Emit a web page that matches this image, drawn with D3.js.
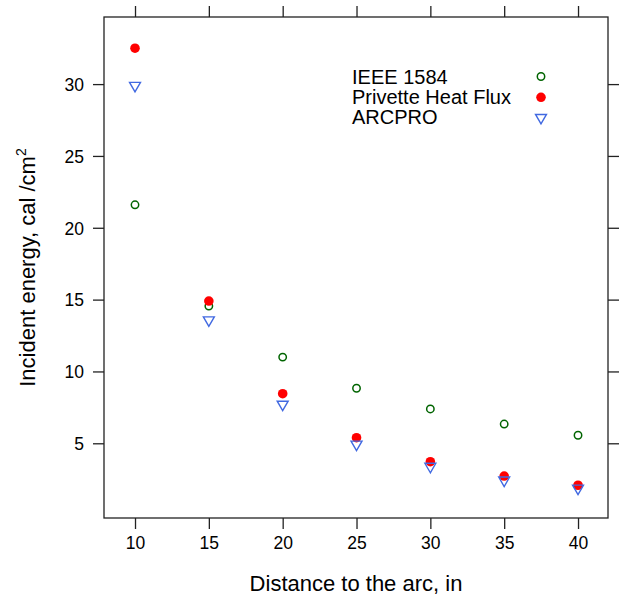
<!DOCTYPE html>
<html>
<head>
<meta charset="utf-8">
<script src="https://cdn.jsdelivr.net/npm/d3@7"></script>
<style>
  body { margin: 0; background: #fff; }
  svg { display: block; font-family: "Liberation Sans", Arial, sans-serif; }
</style>
</head>
<body>
<svg id="chart" width="619" height="595"></svg>
<script>
const distances = [10, 15, 20, 25, 30, 35, 40];
const ieee1584 = [21.6, 14.55, 11.0, 8.83, 7.39, 6.34, 5.56];
const privette = [32.5, 14.9, 8.45, 5.39, 3.72, 2.72, 2.08];
const arcpro = [29.9, 13.58, 7.71, 4.93, 3.39, 2.43, 1.87];
const seriesNames = ["IEEE 1584", "Privette Heat Flux", "ARCPRO"];
const xTicks = [10, 15, 20, 25, 30, 35, 40];
const yTicks = [5, 10, 15, 20, 25, 30];
const xTitle = "Distance to the arc, in";
const yTitle = "Incident energy, cal /cm";

const svg = d3.select("#chart");
const box = { left: 104, right: 608, top: 17, bottom: 518 };

const x = d3.scaleLinear().domain([7.9, 42.03]).range([box.left, box.right]);
const y = d3.scaleLinear().domain([-0.2, 34.67]).range([box.bottom, box.top]);

const tickLen = 11;
const axisColor = "#222";

// axes (bottom/left with labels, top/right ticks only)
const gB = svg.append("g").attr("transform", `translate(0,${box.bottom})`)
  .call(d3.axisBottom(x).tickValues(xTicks).tickSize(tickLen).tickPadding(8).tickFormat(d3.format("d")));
const gT = svg.append("g").attr("transform", `translate(0,${box.top})`)
  .call(d3.axisTop(x).tickValues(xTicks).tickSize(tickLen).tickFormat(""));
const gL = svg.append("g").attr("transform", `translate(${box.left},0)`)
  .call(d3.axisLeft(y).tickValues(yTicks).tickSize(tickLen).tickPadding(9).tickFormat(d3.format("d")));
const gR = svg.append("g").attr("transform", `translate(${box.right},0)`)
  .call(d3.axisRight(y).tickValues(yTicks).tickSize(tickLen).tickFormat(""));

[gB, gT, gL, gR].forEach(g => {
  g.select(".domain").remove();
  g.selectAll(".tick line").attr("stroke", axisColor).attr("stroke-width", 1.3);
  g.selectAll(".tick text").attr("fill", "#000").style("font-size", "17.5px")
    .style("font-family", '"Liberation Sans", Arial, sans-serif');
});
gL.selectAll(".tick text").attr("dy", "0.36em");

// box
svg.append("rect")
  .attr("x", box.left).attr("y", box.top)
  .attr("width", box.right - box.left).attr("height", box.bottom - box.top)
  .attr("fill", "none").attr("stroke", axisColor).attr("stroke-width", 1.3);

// titles
svg.append("text")
  .attr("x", (box.left + box.right) / 2).attr("y", 591)
  .attr("text-anchor", "middle").style("font-size", "22px")
  .text(xTitle);

const yt = svg.append("text")
  .attr("transform", `translate(35,${(box.top + box.bottom) / 2}) rotate(-90)`)
  .attr("text-anchor", "middle").style("font-size", "22px");
yt.append("tspan").text(yTitle);
yt.append("tspan").attr("dy", -9).style("font-size", "14px").text("2");

// points
const green = "#006400", red = "#ff0000", blue = "#4169e1";
const triangle = d3.symbol().type(d3.symbolTriangle).size(52);

svg.append("g").selectAll("circle").data(distances).join("circle")
  .attr("cx", (d) => x(d)).attr("cy", (d, i) => y(ieee1584[i]))
  .attr("r", 3.7).attr("fill", "none").attr("stroke", green).attr("stroke-width", 1.5);

svg.append("g").selectAll("circle").data(distances).join("circle")
  .attr("cx", (d) => x(d)).attr("cy", (d, i) => y(privette[i]))
  .attr("r", 4.8).attr("fill", red);

svg.append("g").selectAll("path").data(distances).join("path")
  .attr("d", triangle)
  .attr("transform", (d, i) => `translate(${x(d)},${y(arcpro[i])}) rotate(180)`)
  .attr("fill", "none").attr("stroke", blue).attr("stroke-width", 1.4);

// legend
const leg = svg.append("g");
const legTextX = 352, legSymX = 541, legBase = 84.3, legStep = 20;
seriesNames.forEach((name, i) => {
  leg.append("text").attr("x", legTextX).attr("y", legBase + i * legStep)
    .style("font-size", "20px").text(name);
});
leg.append("circle").attr("cx", legSymX).attr("cy", 76.5).attr("r", 3.7)
  .attr("fill", "none").attr("stroke", green).attr("stroke-width", 1.5);
leg.append("circle").attr("cx", legSymX).attr("cy", 97.3).attr("r", 4.8).attr("fill", red);
leg.append("path").attr("d", triangle)
  .attr("transform", `translate(${legSymX},117.6) rotate(180)`)
  .attr("fill", "none").attr("stroke", blue).attr("stroke-width", 1.4);
</script>
</body>
</html>
